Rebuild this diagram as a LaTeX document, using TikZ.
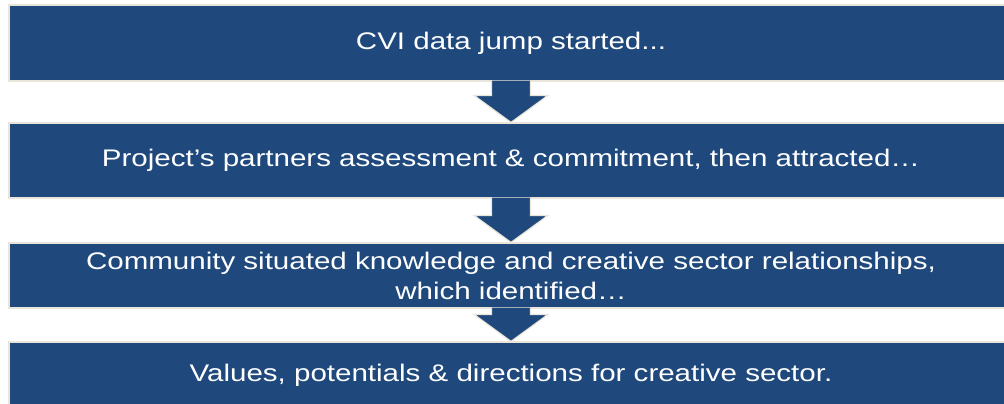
\documentclass[tikz,border=0pt]{standalone}
\usepackage{fontspec}
\setmainfont{Liberation Sans}
\newfontfamily\boxfont[FakeStretch=1.23]{Liberation Sans}
\usetikzlibrary{calc}

\definecolor{boxblue}{RGB}{31,73,125}
\definecolor{boxedge}{RGB}{233,229,218}

\begin{document}
\begin{tikzpicture}[x=1pt,y=-1pt,
        flow node/.style={rectangle,fill=boxblue,draw=boxedge,line width=1.2pt,
          minimum width=1004pt,inner sep=0pt,text=white,align=center,
          font=\boxfont\fontsize{24}{30}\selectfont}]
        \useasboundingbox (0,0) rectangle (1004,404);

        \node[flow node,minimum height=76pt] (1) at (511,43) {CVI data jump started...};
        \node[flow node,minimum height=75pt] (2) at (511,160.5) {Project’s partners assessment \& commitment, then attracted…};
        \node[flow node,minimum height=65pt] (3) at (511,275.5) {Community situated knowledge and creative sector relationships,\\ which identified…};
        \node[flow node,minimum height=66pt] (4) at (511,375) {Values, potentials \& directions for creative sector.};

        % block arrows between the boxes
        \foreach \a/\b in {1/2,2/3,3/4}
          \filldraw[fill=boxblue,draw=boxedge,line width=1.2pt]
            ($(\a.south)+(-19.5,-1)$) -- ($(\b.north)+(-19.5,-27)$)
            -- ($(\b.north)+(-37,-27)$) -- (\b.north)
            -- ($(\b.north)+(37,-27)$) -- ($(\b.north)+(19.5,-27)$)
            -- ($(\a.south)+(19.5,-1)$);
      \end{tikzpicture}
\end{document}
